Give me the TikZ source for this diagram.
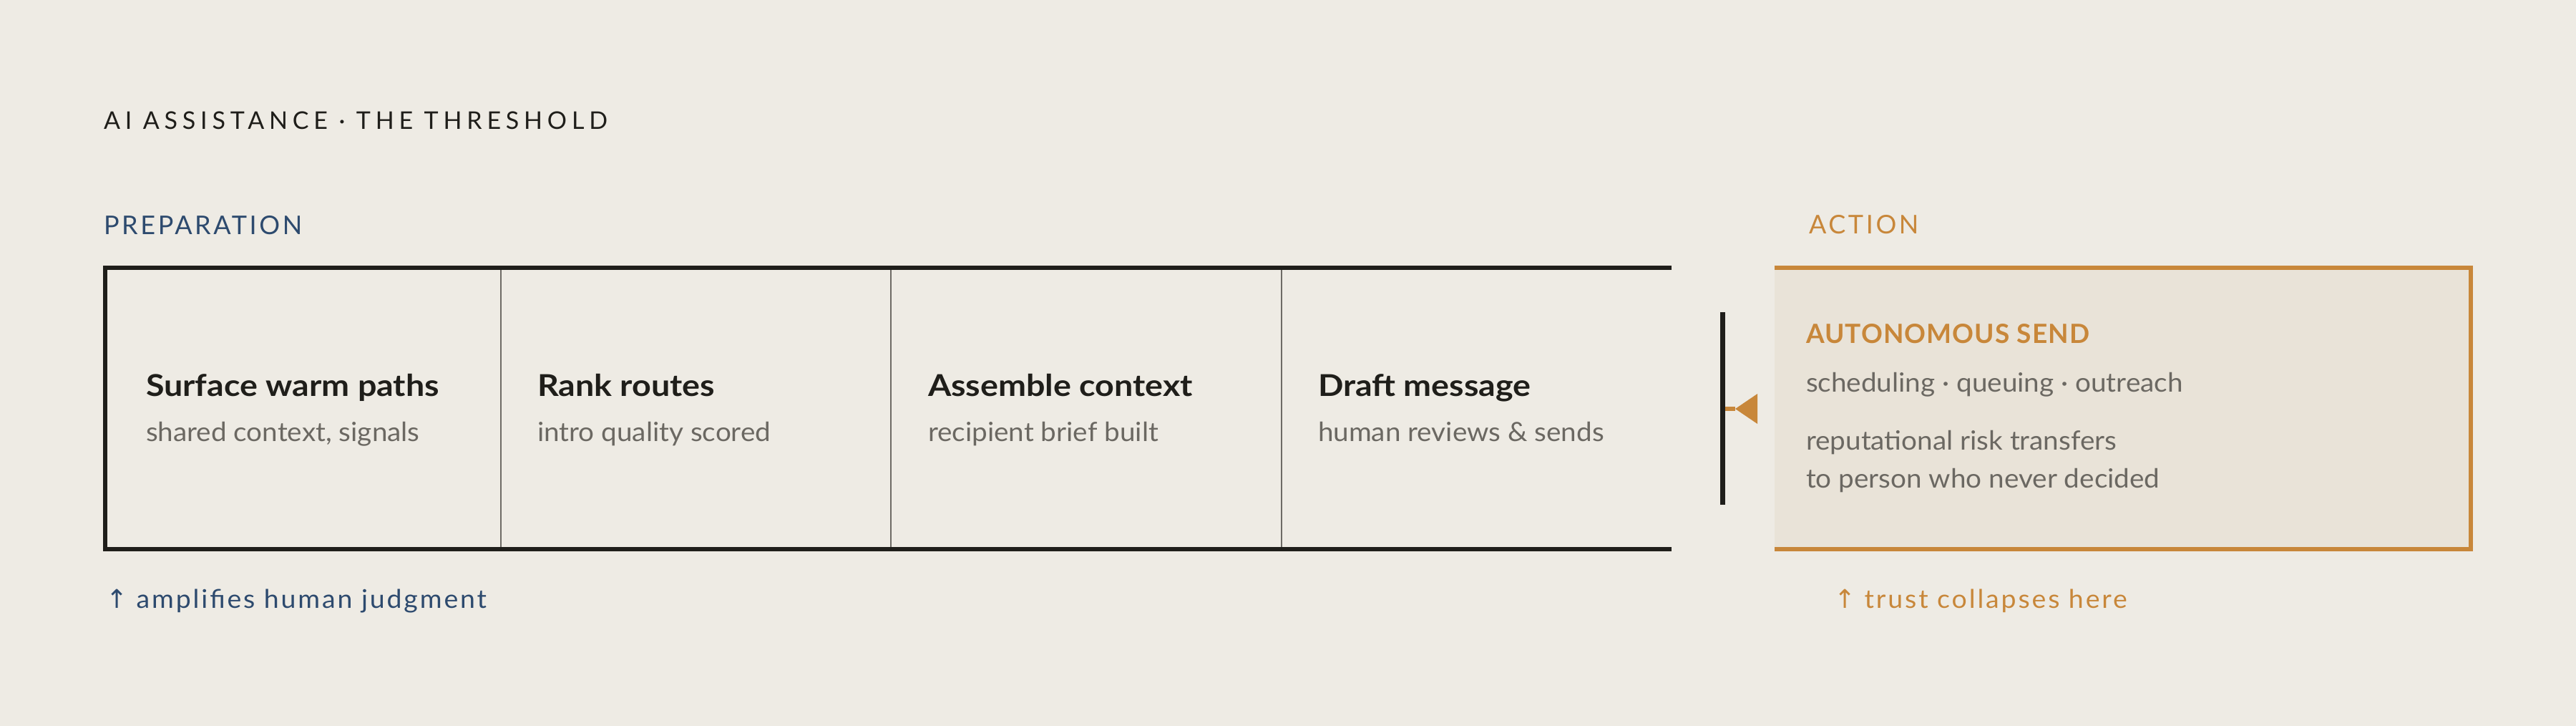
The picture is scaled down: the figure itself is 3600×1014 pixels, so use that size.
\documentclass[tikz,border=0pt]{standalone}
\usepackage{fontspec}
\setmainfont{Lato}
\newfontfamily\arrowfont{DejaVu Sans}
\usetikzlibrary{calc}
\definecolor{bg}{HTML}{EEEBE4}
\definecolor{ink}{HTML}{1F1E1A}
\definecolor{muted}{HTML}{6B6862}
\definecolor{prep}{HTML}{2D4A6E}
\definecolor{act}{HTML}{C8873A}
\definecolor{actfill}{HTML}{E9E3D8}
\definecolor{divider}{HTML}{6E6B65}
\tikzset{
  txt/.style={anchor=base west, inner sep=0pt, outer sep=0pt},
  head/.style={txt, text=ink, font={\fontsize{42}{50}\selectfont\bfseries\addfontfeature{FakeStretch=1.11}}},
  sub/.style={txt, text=muted, font={\fontsize{37}{44}\selectfont\addfontfeature{FakeStretch=1.045}}},
  section/.style={txt, font={\fontsize{36}{44}\selectfont\addfontfeature{LetterSpace=10}}},
  note/.style={txt, font={\fontsize{36}{44}\selectfont\addfontfeature{LetterSpace=8,FakeStretch=1.04}}},
  cellbox/.style={anchor=north west, inner sep=0pt, outer sep=0pt, minimum height=393pt},
}
\begin{document}
\begin{tikzpicture}[x=1pt,y=-1pt]
\fill[bg] (0,0) rectangle (3600,1014);
\useasboundingbox (0,0) rectangle (3600,1014);

% title and section labels
\node[txt, text=ink, font={\fontsize{34}{40}\selectfont\addfontfeature{LetterSpace=20}}] (title) at (145,180) {AI ASSISTANCE · THE THRESHOLD};
\node[section, text=prep] (preplabel) at (145,327) {PREPARATION};
\node[section, text=act] (actlabel) at (2528,326) {ACTION};

% preparation cells
\node[cellbox, minimum width=553pt] (c1) at (147,374) {};
\node[cellbox, minimum width=545pt] (c2) at (700,374) {};
\node[cellbox, minimum width=546pt] (c3) at (1245,374) {};
\node[cellbox, minimum width=545pt] (c4) at (1791,374) {};

\draw[divider, line width=2.5pt] (c1.north east) -- (c1.south east);
\draw[divider, line width=2.5pt] (c2.north east) -- (c2.south east);
\draw[divider, line width=2.5pt] (c3.north east) -- (c3.south east);
\draw[ink, line width=6pt, line join=miter] (c4.north east) -- (c1.north west) -- (c1.south west) -- (c4.south east);

\node[head] (h1) at (204,553) {Surface warm paths};
\node[sub]  (s1) at (204,616) {shared context, signals};
\node[head] (h2) at (751,553) {Rank routes};
\node[sub]  (s2) at (751,616) {intro quality scored};
\node[head] (h3) at (1297,553) {Assemble context};
\node[sub]  (s3) at (1297,616) {recipient brief built};
\node[head] (h4) at (1842,553) {Draft message};
\node[sub]  (s4) at (1842,616) {human reviews \& sends};

% action box
\node[cellbox, minimum width=973pt, fill=actfill] (action) at (2480,374) {};
\draw[act, line width=6pt, line join=miter] (action.north west) -- (action.north east) -- (action.south east) -- (action.south west);

\node[txt, text=act, font={\fontsize{37}{44}\selectfont\bfseries\addfontfeature{LetterSpace=3}}] (a1) at (2524,479) {AUTONOMOUS SEND};
\node[sub] (a2) at (2524,547) {scheduling · queuing · outreach};
\node[sub] (a3) at (2524,628) {reputational risk transfers};
\node[sub] (a4) at (2524,681) {to person who never decided};

% threshold
\coordinate (thrT) at (2407.5,436);
\coordinate (thrB) at (2407.5,705);
\coordinate (thrM) at (2407.5,571);
\coordinate (tipA) at (2425,571);
\coordinate (tipB) at (2456,571);
\draw[act, line width=6pt] (thrM) -- (tipA);
\fill[act] (tipA) -- ($(tipB)+(0,-21)$) -- ($(tipB)+(0,21)$) -- cycle;
\draw[ink, line width=7pt] (thrT) -- (thrB);

% notes
\node[note, text=prep] (n1) at (148,849) {{\arrowfont ↑} amplifies human judgment};
\node[note, text=act] (n2) at (2563,849) {{\arrowfont ↑} trust collapses here};
\end{tikzpicture}
\end{document}
